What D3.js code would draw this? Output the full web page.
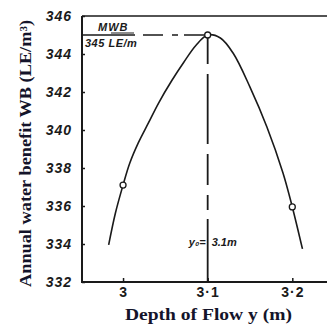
<!DOCTYPE html>
<html><head><meta charset="utf-8">
<script src="https://cdn.jsdelivr.net/npm/d3@7"></script>
<style>body{margin:0;background:#fff}</style>
</head><body>
<script>
const curveX = [2.983, 2.991, 3.0, 3.008, 3.018, 3.030, 3.042, 3.058, 3.072, 3.086, 3.1, 3.115, 3.130, 3.150, 3.170, 3.189, 3.2, 3.212];
const curveY = [333.95, 335.63, 337.1, 338.26, 339.32, 340.37, 341.42, 342.63, 343.58, 344.45, 345, 344.84, 344.05, 342.26, 340.16, 337.74, 335.95, 333.74];
const markX = [3.0, 3.1, 3.2];
const markY = [337.1, 345, 335.95];
const xTicks = [3.0, 3.1, 3.2];
const xTickLabels = ["3", "3·1", "3·2"];
const yTicks = [332, 334, 336, 338, 340, 342, 344, 346];
const optX = 3.1, optY = 345;

const W = 327, H = 329;
const svg = d3.select("body").append("svg").attr("width", W).attr("height", H);
const x = d3.scaleLinear().domain([2.9515, 3.241]).range([82, 327]);
const y = d3.scaleLinear().domain([332, 346]).range([282, 16]);
const ink = "#1a1a1a";

// axes frame
svg.append("line").attr("x1", x(2.9515)).attr("x2", x(3.241)).attr("y1", y(332)).attr("y2", y(332)).attr("stroke", ink).attr("stroke-width", 2);
svg.append("line").attr("x1", x(2.9515)).attr("x2", x(2.9515)).attr("y1", y(332)+1).attr("y2", y(346)).attr("stroke", ink).attr("stroke-width", 2);
svg.append("line").attr("x1", x(2.9515)).attr("x2", x(3.241)).attr("y1", y(346)).attr("y2", y(346)).attr("stroke", ink).attr("stroke-width", 1.5);

// y ticks
const yAxis = d3.axisLeft(y).tickValues(yTicks).tickSize(-3).tickPadding(10).tickFormat(d3.format("d"));
const gy = svg.append("g").attr("transform", `translate(${x(2.9515)},0)`).call(yAxis);
gy.select(".domain").remove();
gy.selectAll("line").attr("stroke", ink).attr("stroke-width", 1.5);
gy.selectAll("text").attr("font-family", "Liberation Sans").attr("font-style", "italic").attr("font-weight", "bold")
  .attr("font-size", 14).attr("letter-spacing", 1).attr("fill", ink);

// x ticks
const xAxis = d3.axisBottom(x).tickValues(xTicks).tickSize(-4).tickPadding(5).tickFormat((d, i) => xTickLabels[i]);
const gx = svg.append("g").attr("transform", `translate(0,${y(332)})`).call(xAxis);
gx.select(".domain").remove();
gx.selectAll("line").attr("stroke", ink).attr("stroke-width", 1.5);
gx.selectAll("text").attr("font-family", "Liberation Sans").attr("font-weight", "bold").attr("font-size", 14)
  .attr("letter-spacing", 1).attr("fill", ink);

// reference lines
svg.append("line").attr("x1", x(2.9515)).attr("x2", x(optX) - 3).attr("y1", y(optY)).attr("y2", y(optY))
  .attr("stroke", ink).attr("stroke-width", 1.3).attr("stroke-dasharray", "53,8,20,9,6,6,24");
svg.append("line").attr("x1", x(optX)).attr("x2", x(optX)).attr("y1", y(optY) + 1).attr("y2", y(332))
  .attr("stroke", ink).attr("stroke-width", 1.8).attr("stroke-dasharray", "28,10,70,10,31,10,15,9,80");

// curve
const pts = curveX.map((v, i) => [v, curveY[i]]);
svg.append("path").datum(pts)
  .attr("d", d3.line().x(d => x(d[0])).y(d => y(d[1])).curve(d3.curveCatmullRom.alpha(0.5)))
  .attr("fill", "none").attr("stroke", ink).attr("stroke-width", 1.6);

// markers
svg.selectAll("circle.m").data(markX).enter().append("circle")
  .attr("cx", d => x(d)).attr("cy", (d, i) => y(markY[i])).attr("r", 3)
  .attr("fill", "#fff").attr("stroke", ink).attr("stroke-width", 1.3);

// annotations
const ann = svg.append("g").attr("font-family", "Liberation Sans").attr("font-style", "italic").attr("font-weight", "bold").attr("fill", ink);
ann.append("text").attr("x", 98).attr("y", 31).attr("font-size", 11).attr("letter-spacing", 1).text("MWB");
svg.append("line").attr("x1", 111).attr("x2", 134).attr("y1", 33).attr("y2", 33).attr("stroke", ink).attr("stroke-width", 1);
ann.append("text").attr("x", 85).attr("y", 47).attr("font-size", 11).attr("letter-spacing", 0.5).text("345 LE/m");
ann.append("text").attr("x", x(optX) - 2).attr("y", 246).attr("text-anchor", "end").attr("font-size", 11).text("y₀=");
ann.append("text").attr("x", x(optX) + 4).attr("y", 246).attr("font-size", 11).text("3.1m");

// axis titles
svg.append("text").attr("x", 125).attr("y", 320)
  .attr("font-family", "Liberation Serif").attr("font-weight", "bold").attr("font-size", 16).attr("fill", "#14142a")
  .attr("textLength", 167).attr("lengthAdjust", "spacingAndGlyphs")
  .text("Depth of Flow y (m)");
svg.append("text").attr("transform", "translate(31,287) rotate(-90)")
  .attr("font-family", "Liberation Serif").attr("font-weight", "bold").attr("font-size", 16).attr("fill", "#14142a")
  .attr("textLength", 267).attr("lengthAdjust", "spacingAndGlyphs")
  .text("Annual water benefit WB (LE/m³)");
</script>
</body></html>
